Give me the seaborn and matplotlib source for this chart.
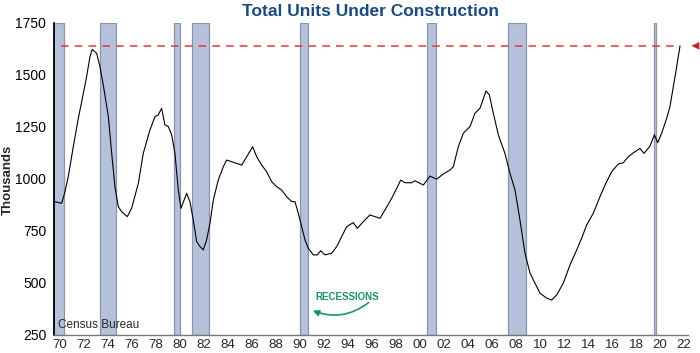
import matplotlib
matplotlib.use("Agg")
import matplotlib.pyplot as plt
import seaborn as sns
import pandas as pd

# Total units under construction (thousands)
years = [1970.0, 1970.08, 1970.64, 1970.92, 1971.19, 1971.61, 1972.03, 1972.31, 1972.72, 1973.0,
         1973.19, 1973.56, 1973.83, 1974.11, 1974.53, 1974.81, 1975.08, 1975.36, 1975.64, 1976.11,
         1976.47, 1977.03, 1977.44, 1978.0, 1978.42, 1978.69, 1978.97, 1979.25, 1979.53, 1979.81,
         1980.08, 1980.36, 1980.58, 1981.06, 1981.33, 1981.61, 1981.89, 1982.17, 1982.44, 1982.72,
         1983.0, 1983.28, 1983.69, 1984.11, 1984.39, 1984.81, 1985.22, 1985.64, 1986.06, 1986.56,
         1986.89, 1987.31, 1987.72, 1988.14, 1988.56, 1988.97, 1989.39, 1989.81, 1990.08, 1990.36,
         1990.64, 1990.92, 1991.19, 1991.61, 1991.94, 1992.22, 1992.58, 1993.14, 1993.56, 1993.97,
         1994.39, 1994.94, 1995.28, 1995.78, 1996.33, 1996.75, 1997.17, 1997.58, 1998.14, 1998.56,
         1998.89, 1999.25, 1999.81, 2000.08, 2000.78, 2001.33, 2001.89, 2002.44, 2003.0, 2003.28,
         2003.69, 2004.11, 2004.67, 2005.08, 2005.5, 2006.0, 2006.28, 2006.61, 2007.03, 2007.58,
         2008.0, 2008.42, 2008.83, 2009.25, 2009.67, 2010.08, 2010.5, 2011.06, 2011.47, 2011.89,
         2012.44, 2013.0, 2013.56, 2013.97, 2014.39, 2014.94, 2015.5, 2015.92, 2016.47, 2017.03,
         2017.44, 2017.86, 2018.28, 2018.83, 2019.17, 2019.67, 2020.03, 2020.31, 2020.64, 2021.06,
         2021.33, 2021.61, 2021.89, 2022.17]
units = [885, 891, 883, 939, 1011, 1155, 1292, 1372, 1492, 1588,
         1623, 1604, 1540, 1452, 1300, 1123, 963, 867, 843, 819,
         859, 979, 1123, 1236, 1300, 1308, 1340, 1260, 1252, 1212,
         1123, 947, 859, 931, 891, 803, 699, 675, 659, 707,
         787, 899, 995, 1059, 1091, 1083, 1075, 1067, 1107, 1155,
         1107, 1067, 1035, 987, 963, 947, 915, 891, 891, 835,
         771, 707, 667, 635, 635, 655, 635, 643, 675, 723,
         771, 790, 763, 795, 827, 819, 811, 851, 907, 955,
         995, 982, 982, 992, 971, 1014, 999, 1024, 1043, 1059,
         1155, 1220, 1252, 1316, 1340, 1423, 1404, 1316, 1212, 1123,
         1027, 947, 803, 643, 547, 499, 451, 427, 418, 442,
         499, 587, 659, 715, 779, 835, 915, 971, 1035, 1072,
         1078, 1107, 1126, 1147, 1123, 1159, 1212, 1175, 1220, 1292,
         1348, 1444, 1540, 1640]

# recession periods
rec_start = [1969.92, 1973.86, 1980.03, 1981.53, 1990.53, 2001.08, 2007.86, 2020.0]
rec_end = [1970.87, 1975.19, 1980.53, 1982.89, 1991.19, 2001.81, 2009.36, 2020.17]

latest = 1640

df = pd.DataFrame({"year": years, "units": units})

sns.set_style("white")
plt.rcParams['font.family'] = ['Liberation Sans', 'DejaVu Sans']

fig = plt.figure(figsize=(7, 3.53), dpi=100)
ax = fig.add_axes([0.0771, 0.051, 0.9057, 0.8839])

for s, e in zip(rec_start, rec_end):
    ax.axvspan(s, e, facecolor='#b5c1da', edgecolor='#8a94aa', linewidth=0.9, zorder=1)

ax.hlines(latest, 1970.55, years[-1], colors='#e0393e', linestyles=(0, (5, 4)), linewidth=1.1, zorder=2)

sns.lineplot(data=df, x="year", y="units", color='black', linewidth=0.8, ax=ax, zorder=3)

ax.set_xlim(1970.0, 2022.83)
ax.set_ylim(250, 1750)
ax.set_xlabel("")
ax.set_ylabel("")

ax.set_yticks(range(250, 1751, 250))
ax.tick_params(axis='y', direction='inout', length=7, width=0.9, labelsize=10, pad=2, colors='black')
ax.set_xticks([y + 0.5 for y in range(1970, 2023, 2)])
ax.set_xticklabels([f"{y % 100:02d}" for y in range(1970, 2023, 2)])
ax.set_xticks(range(1970, 2023), minor=True)
ax.tick_params(axis='x', which='major', length=0, labelsize=9.5, pad=3)
ax.tick_params(axis='x', which='minor', direction='inout', length=7, width=0.8, color='#555555')

for side in ['top', 'right']:
    ax.spines[side].set_visible(False)
ax.spines['left'].set_color('black')
ax.spines['left'].set_linewidth(1.3)
ax.spines['bottom'].set_color('#777777')
ax.spines['bottom'].set_linewidth(1.0)

fig.text(0.53, 0.968, "Total Units Under Construction", ha='center', va='center',
         fontsize=12.5, fontweight='bold', color='#1b4a80')
fig.text(0.011, 0.49, "Thousands", rotation=90, ha='center', va='center',
         fontsize=9.5, fontweight='bold')

ax.text(1970.35, 298, "Census Bureau", fontsize=8.5, ha='left', va='center', zorder=4)

ax.text(1994.4, 433, "RECESSIONS", fontsize=7, fontweight='bold', color='#1a9460',
        ha='center', va='center')
ax.annotate("", xy=(1991.35, 372), xytext=(1996.4, 414),
            arrowprops=dict(arrowstyle='-|>', color='#1a9460', lw=1.2,
                            connectionstyle='arc3,rad=-0.3', mutation_scale=9))

# arrow marker for latest value
ax.annotate("", xy=(2022.9, latest), xytext=(2024.0, latest), annotation_clip=False,
            arrowprops=dict(arrowstyle='-|>', color='#cc2229', lw=0, mutation_scale=14))

fig.savefig("out.png", dpi=100)
